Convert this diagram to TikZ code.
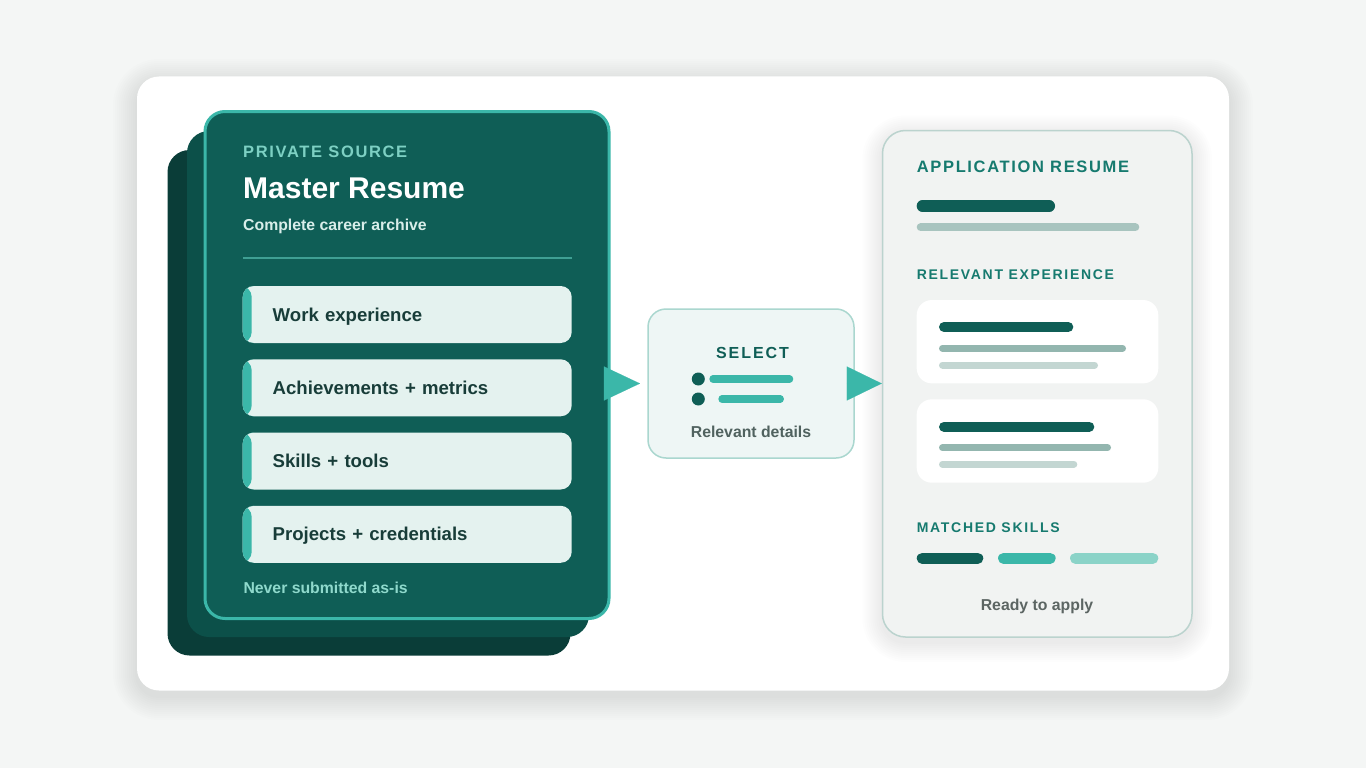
\documentclass[tikz,border=0pt]{standalone}
\usepackage{fontspec}
\setmainfont{Liberation Sans}
\newfontfamily\trackA[LetterSpace=10]{Liberation Sans Bold}
\newfontfamily\trackB[LetterSpace=12]{Liberation Sans Bold}
\usetikzlibrary{arrows.meta,calc}
\definecolor{bgc}{HTML}{F4F6F5}
\definecolor{layerA}{HTML}{0A3D38}
\definecolor{layerB}{HTML}{0C5049}
\definecolor{frontc}{HTML}{0F5E56}
\definecolor{tealc}{HTML}{3BB7A9}
\definecolor{itembg}{HTML}{E4F2EF}
\definecolor{itemtxt}{HTML}{183D39}
\definecolor{privc}{HTML}{7DD0C3}
\definecolor{subc}{HTML}{D9EEEA}
\definecolor{divc}{HTML}{3F9F93}
\definecolor{neverc}{HTML}{8FD9CC}
\definecolor{selbg}{HTML}{EEF6F5}
\definecolor{selbd}{HTML}{AAD7CF}
\definecolor{greytxt}{HTML}{50625F}
\definecolor{rcardbg}{HTML}{F1F3F2}
\definecolor{rcardbd}{HTML}{BBD3CE}
\definecolor{labelc}{HTML}{167A6F}
\definecolor{barA}{HTML}{A8C4BF}
\definecolor{barB}{HTML}{93B6AF}
\definecolor{barC}{HTML}{C3D6D2}
\definecolor{skillL}{HTML}{8BD3C8}
\definecolor{readyc}{HTML}{5C6563}
\definecolor{shadowc}{HTML}{1E3A36}
\begin{document}
\begin{tikzpicture}[x=1pt,y=-1pt,
  box/.style={rectangle, inner sep=0pt, outer sep=0pt},
  txt/.style={inner sep=0pt, anchor=base west},
  ctxt/.style={inner sep=0pt, anchor=base},
  itembox/.style={box, fill=itembg, rounded corners=11pt, minimum height=57pt,
    text width=269pt, inner xsep=30pt, align=left, text height=13.3pt, text depth=0pt,
    font=\fontsize{18.6}{20}\selectfont\bfseries, text=itemtxt,
    path picture={\fill[tealc] (path picture bounding box.south west) rectangle ([xshift=9pt]path picture bounding box.north west);}},
  bar/.style={line cap=round},
  flow/.style={draw=tealc, fill=tealc, line width=0.1pt},
  shadowstep/.style={fill=shadowc, fill opacity=0.007}
]
\useasboundingbox (0,0) rectangle (1366,768);
\fill[bgc] (0,0) rectangle (1366,768);

% soft shadow of the white panel
\foreach \i in {1,...,12}{
  \fill[shadowstep, rounded corners=22pt+2*\i pt] (137-2*\i,77-2*\i+6) rectangle (1229+2*\i,690+2*\i+6);
}
% white panel
\node[box, fill=white, rounded corners=22pt, minimum width=1092pt, minimum height=614pt] (panel) at (683,383.5) {};

% stacked master cards
\node[box, fill=layerA, rounded corners=22pt, minimum width=403pt, minimum height=505.5pt] (layer1) at (369,402.75) {};
\node[box, fill=layerB, rounded corners=22pt, minimum width=402pt, minimum height=506pt] (layer2) at (388,384) {};
\node[rectangle, inner sep=0pt, fill=frontc, draw=tealc, line width=3pt, rounded corners=20pt, minimum width=404pt, minimum height=507pt] (master) at (407,365) {};

\node[txt, text=privc, font=\fontsize{16.5}{18}\trackA] (privlbl) at (243,157.3) {PRIVATE SOURCE};
\node[txt, text=white, font=\fontsize{30}{32}\selectfont\bfseries] (mtitle) at (243,198.3) {Master Resume};
\node[txt, text=subc, font=\fontsize{15.8}{18}\selectfont\bfseries] (msub) at (243,230) {Complete career archive};
\draw[divc, line width=2pt] (243,258.3) -- (571.7,258.3);

\node[itembox] (item1) at (407.2,314.5) {Work experience};
\node[itembox] (item2) at (407.2,387.8) {Achievements + metrics};
\node[itembox] (item3) at (407.2,461) {Skills + tools};
\node[itembox] (item4) at (407.2,534.3) {Projects + credentials};

\node[txt, text=neverc, font=\fontsize{15.8}{18}\selectfont\bfseries] (never) at (243.3,593.3) {Never submitted as-is};

% select box
\node[rectangle, inner sep=0pt, fill=selbg, draw=selbd, line width=1.5pt, rounded corners=18pt, minimum width=206pt, minimum height=149pt] (select) at (751,383.5) {};
\node[ctxt, text=frontc, font=\fontsize{16}{18}\trackB] (seltitle) at (752.5,358.3) {SELECT};
\fill[frontc] (698.3,379) circle (6.5pt);
\fill[frontc] (698.3,399) circle (6.5pt);
\draw[bar, tealc, line width=7.3pt] (713,379) -- (789.6,379);
\draw[bar, tealc, line width=7.3pt] (722,399) -- (780.3,399);
\node[ctxt, text=greytxt, font=\fontsize{15.8}{18}\selectfont\bfseries] (seldesc) at (751,437.3) {Relevant details};

% soft shadow of the application card
\foreach \i in {1,...,10}{
  \fill[shadowstep, rounded corners=23pt+2*\i pt] (882.5-2*\i,130.5-2*\i+5) rectangle (1192+2*\i,637+2*\i+5);
}
% application resume card
\node[rectangle, inner sep=0pt, fill=rcardbg, draw=rcardbd, line width=1.5pt, rounded corners=23pt, minimum width=309.5pt, minimum height=506.5pt] (resume) at (1037.25,383.75) {};
\node[txt, text=labelc, font=\fontsize{16.5}{18}\trackA] (applbl) at (916.7,172.3) {APPLICATION RESUME};
\draw[bar, frontc, line width=11.7pt] (922.5,206) -- (1049.2,206);
\draw[bar, barA, line width=8pt] (920.7,227.3) -- (1135.3,227.3);

\node[txt, text=labelc, font=\fontsize{14}{16}\trackB] (explbl) at (916.7,279) {RELEVANT EXPERIENCE};
\node[box, fill=white, rounded corners=15pt, minimum width=241.6pt, minimum height=83.3pt] (exp1) at (1037.5,341.7) {};
\draw[bar, frontc, line width=10pt] (944,327) -- (1068.3,327);
\draw[bar, barB, line width=7pt] (942.5,348.3) -- (1122.5,348.3);
\draw[bar, barC, line width=7pt] (942.5,365) -- (1094.5,365);
\node[box, fill=white, rounded corners=15pt, minimum width=241.6pt, minimum height=83.4pt] (exp2) at (1037.5,441) {};
\draw[bar, frontc, line width=10pt] (944,426.7) -- (1089.3,426.7);
\draw[bar, barB, line width=7pt] (942.5,447.7) -- (1107.5,447.7);
\draw[bar, barC, line width=7pt] (942.5,464.3) -- (1073.8,464.3);

\node[txt, text=labelc, font=\fontsize{14}{16}\trackB] (skilllbl) at (916.7,532.7) {MATCHED SKILLS};
\draw[bar, frontc, line width=11pt] (922.2,558.3) -- (977.8,558.3);
\draw[bar, tealc, line width=11pt] (1003.5,558.3) -- (1050.2,558.3);
\draw[bar, skillL, line width=11pt] (1075.5,558.3) -- (1152.8,558.3);
\node[ctxt, text=readyc, font=\fontsize{15.8}{18}\selectfont\bfseries] (ready) at (1037,610) {Ready to apply};

% connectors
\draw[flow, -{Triangle[length=36pt,width=34pt]}] ([xshift=-6.5pt]master.east |- select.west) -- ([xshift=-7.3pt]select.west);
\draw[flow, -{Triangle[length=35pt,width=34pt]}] ([xshift=-8pt]select.east) -- (resume.west |- select.east);
\end{tikzpicture}
\end{document}
